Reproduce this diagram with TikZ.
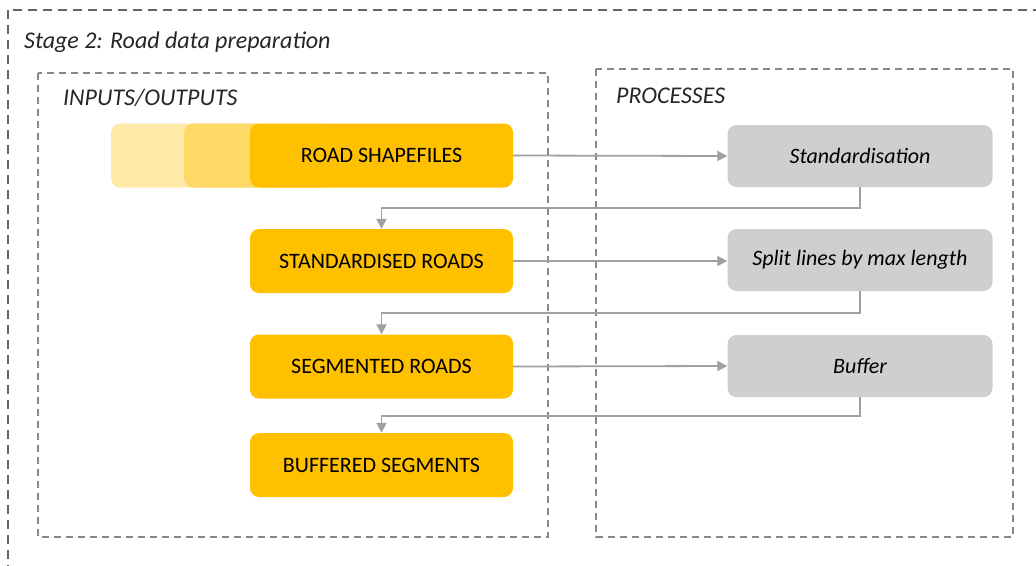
\documentclass[tikz,border=0pt]{standalone}
\usepackage{fontspec}
\setmainfont{Carlito}
\usetikzlibrary{arrows.meta,positioning}
\definecolor{ygold}{HTML}{FFC000}
\definecolor{ylight}{HTML}{FFE9A8}
\definecolor{ymid}{HTML}{FFD966}
\definecolor{pgrey}{HTML}{D0CECE}
\definecolor{agrey}{HTML}{A0A0A0}
\definecolor{outerdash}{HTML}{5F6670}
\definecolor{innerdash}{HTML}{888888}
\tikzset{
  outerbox/.style={draw=outerdash, line width=1.4pt, dash pattern=on 9pt off 6pt},
  innerbox/.style={draw=innerdash, line width=1.2pt, dash pattern=on 7pt off 5pt},
  iobox/.style={fill=ygold, rounded corners=9pt, minimum width=263pt, minimum height=64pt, inner sep=0pt, font=\fontsize{22}{24}\selectfont, text=black},
  ghostbox/.style={rounded corners=9pt, minimum width=150pt, minimum height=64pt, inner sep=0pt},
  procbox/.style={fill=pgrey, rounded corners=9pt, minimum width=265pt, minimum height=62pt, inner sep=0pt, font=\fontsize{22}{24}\selectfont\itshape, text=black},
  arr/.style={draw=agrey, line width=1.8pt, -{Triangle[length=10pt,width=10pt]}},
  lbl/.style={font=\fontsize{24}{26}\selectfont\itshape, text=black!85, inner sep=0pt, anchor=west}
}
\begin{document}
\begin{tikzpicture}[x=1pt,y=-1pt]
\useasboundingbox (0,0) rectangle (1036,565);
\clip (0,0) rectangle (1036,565);
% frames
\draw[outerbox] (8,10) rectangle (1050,580);
\node[lbl] (title) at (24,42) {Stage 2: Road data preparation};
\draw[innerbox] (38,73) rectangle (548,537);
\node[lbl] (iolbl) at (63,98) {INPUTS/OUTPUTS};
\draw[innerbox] (596,69) rectangle (1013,537);
\node[lbl] (prlbl) at (616,96) {PROCESSES};
% ghost stack
\node[ghostbox, fill=ylight, anchor=west] (g1) at (111,155.5) {};
\node[ghostbox, fill=ymid, anchor=west] (g2) at (184,155.5) {};
% inputs/outputs
\node[iobox] (rs) at (381.5,155.5) {ROAD SHAPEFILES};
\node[iobox] (sd) at (381.5,261) {STANDARDISED ROADS};
\node[iobox] (sg) at (381.5,366.5) {SEGMENTED ROADS};
\node[iobox] (bs) at (381.5,465) {BUFFERED SEGMENTS};
% processes
\node[procbox] (p1) at (860,156) {Standardisation};
\node[procbox] (p2) at (860,260) {Split lines by max length};
\node[procbox] (p3) at (860,366) {Buffer};
% return levels
\coordinate (r1) at (0,208);
\coordinate (r2) at (0,313);
\coordinate (r3) at (0,416);
% connectors
\draw[arr] (rs.east) -- (p1.west);
\draw[arr] (p1.south) -- (p1.south |- r1) -| (sd.north);
\draw[arr] (sd.east) -- (sd.east -| p2.west);
\draw[arr] (p2.south) -- (p2.south |- r2) -| (sg.north);
\draw[arr] (sg.east) -- (p3.west);
\draw[arr] (p3.south) -- (p3.south |- r3) -| (bs.north);
\end{tikzpicture}
\end{document}
